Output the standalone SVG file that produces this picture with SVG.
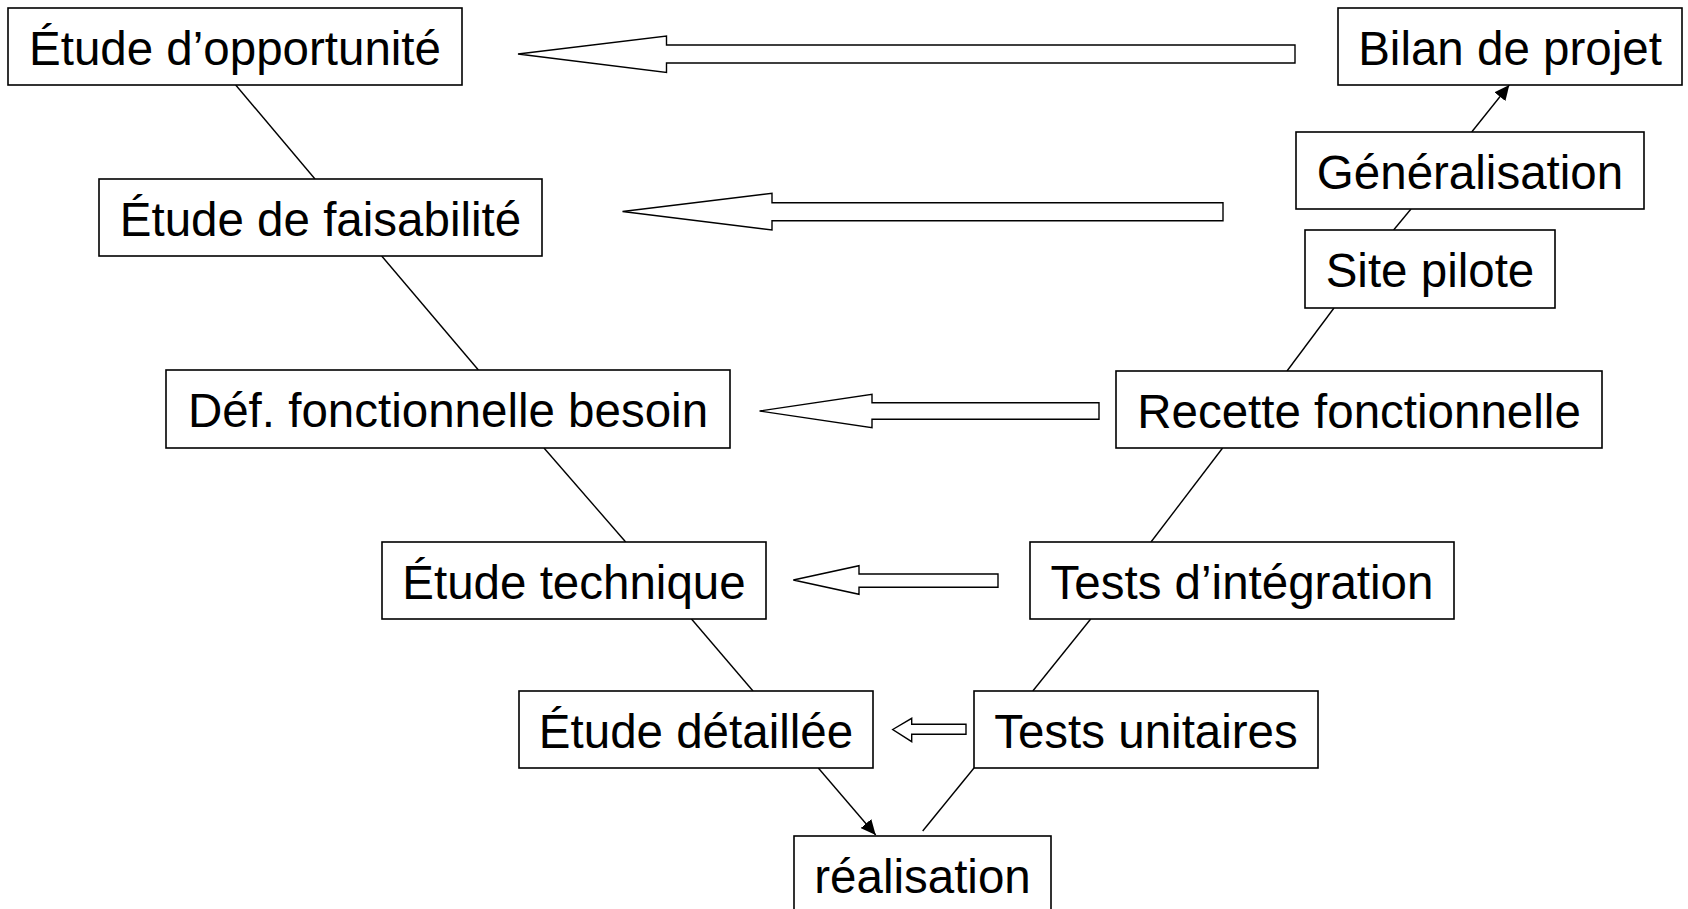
<svg xmlns="http://www.w3.org/2000/svg" width="1688" height="909" viewBox="0 0 1688 909">
  <style>
    .box { fill: #ffffff; stroke: #000000; stroke-width: 1.6; }
    .label { font-family: "Liberation Sans", Arial, sans-serif; font-size: 47.5px; fill: #000000; text-anchor: middle; }
    .link { stroke: #000000; stroke-width: 1.4; fill: none; }
    .block { fill: #ffffff; stroke: #000000; stroke-width: 1.4; stroke-linejoin: miter; }
  </style>
  <defs>
    <marker id="head" markerUnits="userSpaceOnUse" markerWidth="16" markerHeight="14" refX="15" refY="7" orient="auto">
      <path d="M0,0 L15,7 L0,14 Z" fill="#000000"/>
    </marker>
  </defs>
  <rect width="1688" height="909" fill="#ffffff"/>

  <!-- connectors of the V -->
  <g id="connectors">
    <line class="link" x1="235.7" y1="85" x2="315" y2="179"/>
    <line class="link" x1="381.7" y1="256" x2="478.4" y2="370"/>
    <line class="link" x1="544" y1="448" x2="625.7" y2="542"/>
    <line class="link" x1="691.5" y1="619" x2="753" y2="691"/>
    <line class="link" x1="818.3" y1="768" x2="875.7" y2="835" marker-end="url(#head)"/>
    <line class="link" x1="974" y1="768" x2="922.7" y2="831"/>
    <line class="link" x1="1090.7" y1="619" x2="1032.8" y2="691"/>
    <line class="link" x1="1222.6" y1="448" x2="1151" y2="542"/>
    <line class="link" x1="1334" y1="308" x2="1287" y2="371"/>
    <line class="link" x1="1393.6" y1="230" x2="1411" y2="209"/>
    <line class="link" x1="1471.7" y1="132" x2="1509.3" y2="85" marker-end="url(#head)"/>

    <!-- hollow feedback arrows from validation to design phases -->
    <polygon class="block" points="518,54 666.5,36 666.5,45 1295,45 1295,63 666.5,63 666.5,72.5"/>
    <polygon class="block" points="622.5,211.5 772,193.3 772,202.7 1223,202.7 1223,220.7 772,220.7 772,230"/>
    <polygon class="block" points="759.6,411 872,394.3 872,402.7 1099,402.7 1099,419.3 872,419.3 872,427.7"/>
    <polygon class="block" points="793.3,580 859,565.7 859,574 998,574 998,587.3 859,587.3 859,594.3"/>
    <polygon class="block" points="892.7,729.5 911.7,718.3 911.7,724.3 966,724.3 966,734.3 911.7,734.3 911.7,741.7"/>
  </g>

  <!-- design branch -->
  <g id="opportunite">
    <rect class="box" x="8" y="8" width="454" height="77"/>
    <text class="label" x="235" y="64.5">Étude d’opportunité</text>
  </g>
  <g id="faisabilite">
    <rect class="box" x="99" y="179" width="443" height="77"/>
    <text class="label" x="320.5" y="235.5">Étude de faisabilité</text>
  </g>
  <g id="def-fonctionnelle">
    <rect class="box" x="166" y="370" width="564" height="78"/>
    <text class="label" x="448" y="427">Déf. fonctionnelle besoin</text>
  </g>
  <g id="etude-technique">
    <rect class="box" x="382" y="542" width="384" height="77"/>
    <text class="label" x="574" y="598.5">Étude technique</text>
  </g>
  <g id="etude-detaillee">
    <rect class="box" x="519" y="691" width="354" height="77"/>
    <text class="label" x="696" y="747.5">Étude détaillée</text>
  </g>

  <!-- bottom of the V -->
  <g id="realisation">
    <rect class="box" x="794" y="836" width="257" height="77"/>
    <text class="label" x="922.5" y="893">réalisation</text>
  </g>

  <!-- validation branch -->
  <g id="tests-unitaires">
    <rect class="box" x="974" y="691" width="344" height="77"/>
    <text class="label" x="1146" y="747.5">Tests unitaires</text>
  </g>
  <g id="tests-integration">
    <rect class="box" x="1030" y="542" width="424" height="77"/>
    <text class="label" x="1242" y="598.5">Tests d’intégration</text>
  </g>
  <g id="recette">
    <rect class="box" x="1116" y="371" width="486" height="77"/>
    <text class="label" x="1359" y="427.5">Recette fonctionnelle</text>
  </g>
  <g id="site-pilote">
    <rect class="box" x="1305" y="230" width="250" height="78"/>
    <text class="label" x="1430" y="287">Site pilote</text>
  </g>
  <g id="generalisation">
    <rect class="box" x="1296" y="132" width="348" height="77"/>
    <text class="label" x="1470" y="188.5">Généralisation</text>
  </g>
  <g id="bilan">
    <rect class="box" x="1338" y="8" width="344" height="77"/>
    <text class="label" x="1510" y="64.5">Bilan de projet</text>
  </g>
</svg>
